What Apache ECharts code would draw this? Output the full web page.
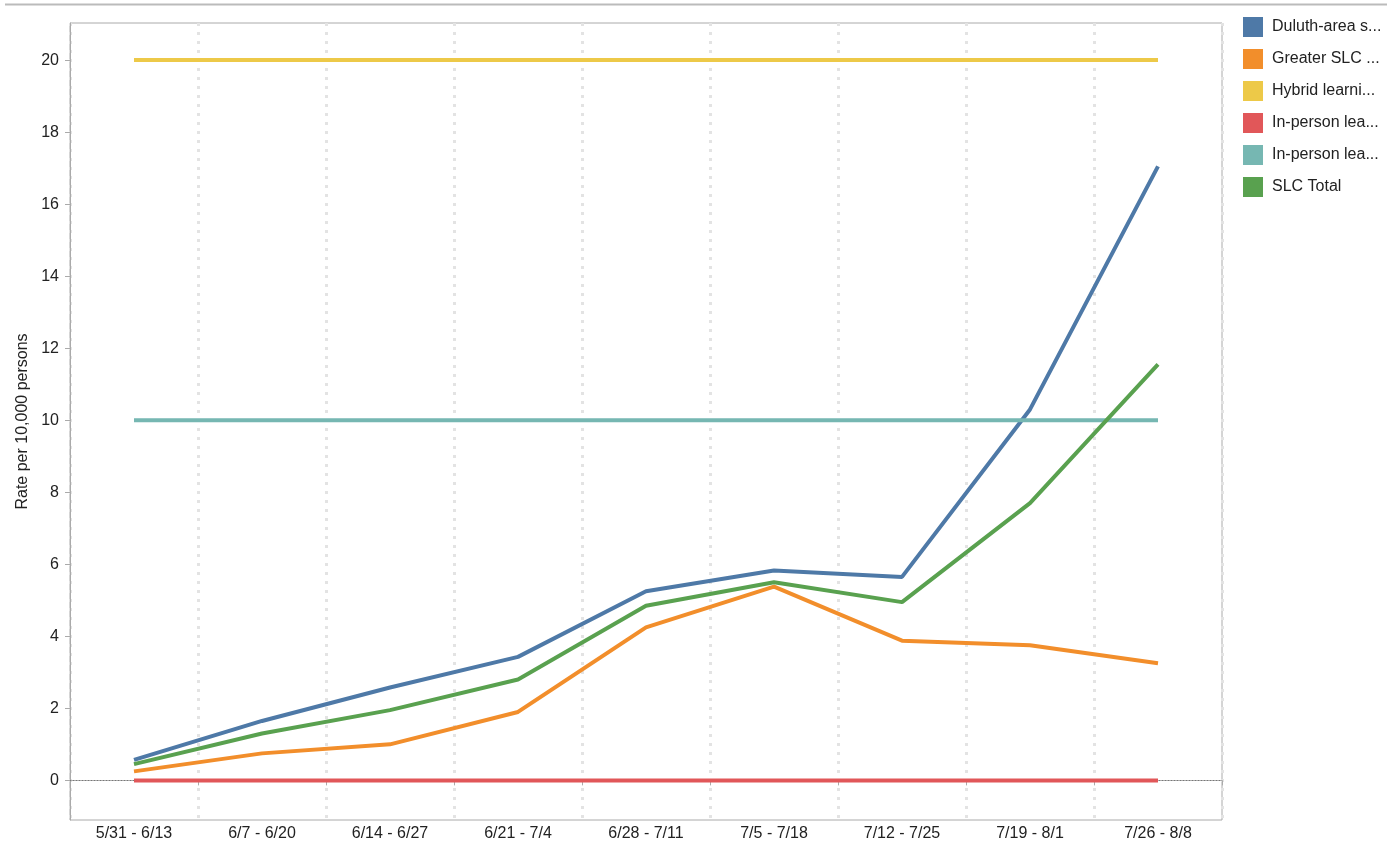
<!DOCTYPE html>
<html>
<head>
<meta charset="utf-8">
<script src="https://cdn.jsdelivr.net/npm/echarts@6/dist/echarts.min.js"></script>
<style>html,body{margin:0;padding:0;background:#fff}#c{width:1387px;height:845px}</style>
</head>
<body>
<div id="c"></div>
<script>
const categories = ["5/31 - 6/13","6/7 - 6/20","6/14 - 6/27","6/21 - 7/4","6/28 - 7/11","7/5 - 7/18","7/12 - 7/25","7/19 - 8/1","7/26 - 8/8"];
const seriesNames = ["Duluth-area schools","Greater SLC schools","Hybrid learning for all students","In-person learning for all students","In-person learning for elementary students","SLC Total"];
const legendLabels = ["Duluth-area s...","Greater SLC ...","Hybrid learni...","In-person lea...","In-person lea...","SLC Total"];
const duluth = [0.57, 1.65, 2.58, 3.43, 5.25, 5.83, 5.65, 10.3, 17.05];
const greaterSlc = [0.25, 0.75, 1.0, 1.9, 4.25, 5.38, 3.88, 3.75, 3.25];
const hybrid = [20, 20, 20, 20, 20, 20, 20, 20, 20];
const inPersonAll = [0, 0, 0, 0, 0, 0, 0, 0, 0];
const inPersonElem = [10, 10, 10, 10, 10, 10, 10, 10, 10];
const slcTotal = [0.45, 1.3, 1.95, 2.8, 4.85, 5.5, 4.95, 7.7, 11.55];
const yTicks = [0, 2, 4, 6, 8, 10, 12, 14, 16, 18, 20];

const colors = ["#4e79a7","#f28e2b","#edc948","#e15759","#76b7b2","#59a14f"];
const dataList = [duluth, greaterSlc, hybrid, inPersonAll, inPersonElem, slcTotal];
const font = "Liberation Sans, Arial, sans-serif";

const series = seriesNames.map((n, i) => ({
  name: n,
  type: 'line',
  data: dataList[i],
  symbol: 'none',
  z: 3 + (i === 3 ? 0 : 1),
  lineStyle: { width: 4, color: colors[i] },
  itemStyle: { color: colors[i] }
}));
series[3].markLine = {
  silent: true,
  symbol: ['none','none'],
  label: { show: false },
  lineStyle: { type: [1, 2], color: '#777', width: 1 },
  data: [{ yAxis: 0 }],
  z: 1
};

const chart = echarts.init(document.getElementById('c'), null, { renderer: 'canvas' });
chart.setOption({
  animation: false,
  color: colors,
  textStyle: { fontFamily: font },
  graphic: [{
    type: 'line', shape: { x1: 5, y1: 4.5, x2: 1387, y2: 4.5 },
    style: { stroke: '#bbb', lineWidth: 2 }
  }],
  legend: {
    orient: 'vertical', left: 1238, top: 12,
    itemWidth: 20, itemHeight: 20, itemGap: 12,
    icon: 'rect',
    textStyle: { fontSize: 16, color: '#222', fontFamily: font, padding: [0, 0, 0, 4] },
    formatter: name => legendLabels[seriesNames.indexOf(name)],
    data: seriesNames
  },
  grid: { left: 70, right: 165, top: 23, bottom: 25, show: true, borderColor: '#aaa', borderWidth: 1, containLabel: false },
  xAxis: {
    type: 'category', data: categories, boundaryGap: true,
    axisLine: { lineStyle: { color: '#aaa' } },
    axisTick: { show: true, length: 5, lineStyle: { color: '#aaa' } },
    axisLabel: { fontSize: 16, color: '#222', margin: 6, fontFamily: font },
    splitLine: { show: true, lineStyle: { type: [3, 6], color: '#e3e3e3', width: 3 } }
  },
  yAxis: {
    type: 'value', min: -1.1, max: 21.03,
    name: 'Rate per 10,000 persons', nameLocation: 'middle', nameGap: 30,
    nameTextStyle: { fontSize: 16, color: '#222', fontFamily: font },
    axisLine: { show: true, lineStyle: { color: '#aaa' } },
    axisTick: { show: true, length: 5, customValues: yTicks, lineStyle: { color: '#aaa' } },
    axisLabel: { fontSize: 16, color: '#222', customValues: yTicks, margin: 11, fontFamily: font },
    splitLine: { show: false }
  },
  series: series
});
</script>
</body>
</html>
